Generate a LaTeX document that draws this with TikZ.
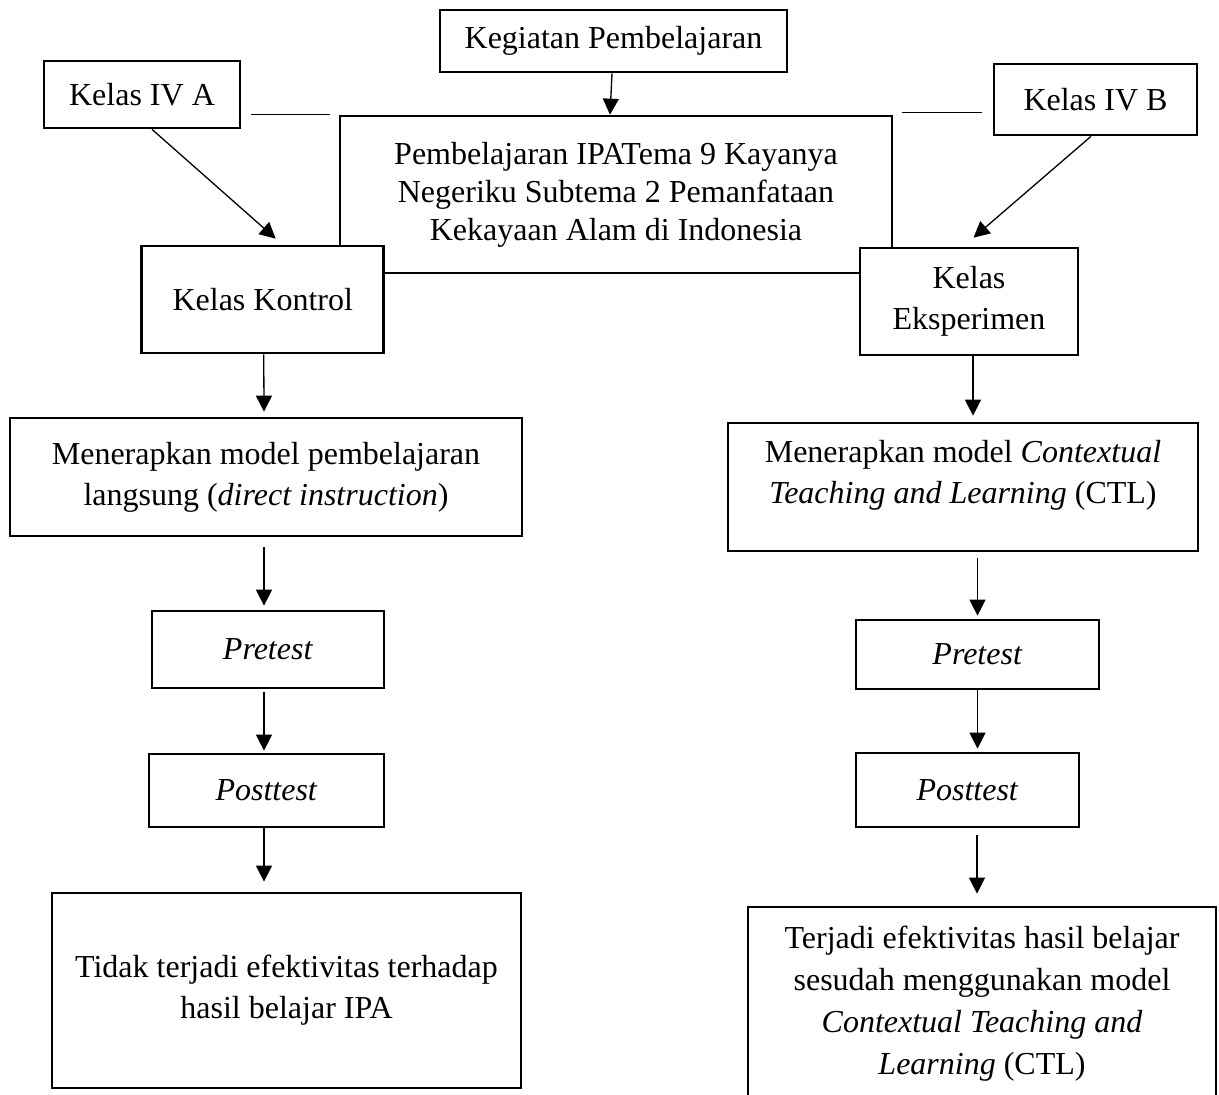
\documentclass[tikz,border=0pt]{standalone}
\usepackage{fontspec}
\setmainfont{Liberation Serif}
\usetikzlibrary{arrows.meta,calc}
\tikzset{
  box/.style={draw, fill=white, line width=2.7pt, inner sep=0pt, align=center,
              font=\fontsize{32}{41}\selectfont},
  txt/.style={inner sep=0pt, align=center, font=\fontsize{32}{41}\selectfont},
  arr/.style={line width=1.3pt, -{Triangle[length=16pt,width=16pt]}},
  plain/.style={line width=1.3pt}
}
\begin{document}
\begin{tikzpicture}[x=1pt,y=-1pt]
\fill[white] (0,0) rectangle (1219,1095);
\useasboundingbox (0,0) rectangle (1219,1095);

% central box (drawn first, partly covered)
\node[box, minimum width=552pt, minimum height=157pt, font=\fontsize{32}{38}\selectfont] (central) at (616,194.5)
  {Pembelajaran IPATema 9 Kayanya\\Negeriku Subtema 2 Pemanfataan\\Kekayaan Alam di Indonesia};

\node[box, minimum width=347pt, minimum height=62pt] (kg) at (613.5,41) {Kegiatan Pembelajaran};
\node[box, minimum width=196pt, minimum height=67pt] (iva) at (142,94.5) {Kelas IV A};
\node[box, minimum width=203pt, minimum height=71pt] (ivb) at (1095.5,99.5) {Kelas IV B};

\node[box, minimum width=242pt, minimum height=107pt] (kontrol) at (262.75,299.5) {Kelas Kontrol};
\node[box, minimum width=218pt, minimum height=107pt] (eks) at (969,301.5) {Kelas\\Eksperimen};

\node[box, minimum width=512pt, minimum height=118pt] (menl) at (266,477)
  {Menerapkan model pembelajaran\\langsung (\textit{direct instruction})};
\node[box, minimum width=470pt, minimum height=128pt] (menr) at (963,487) {};
\node[txt] (menrt) at (963,475)
  {Menerapkan model \textit{Contextual}\\\textit{Teaching and Learning} (CTL)};

\node[box, minimum width=232pt, minimum height=77pt] (prel) at (268,649.5) {\textit{Pretest}};
\node[box, minimum width=235pt, minimum height=73pt] (postl) at (266.5,790.5) {\textit{Posttest}};
\node[box, minimum width=243pt, minimum height=69pt] (prer) at (977.5,654.5) {\textit{Pretest}};
\node[box, minimum width=223pt, minimum height=74pt] (postr) at (967.5,790) {\textit{Posttest}};

\node[box, minimum width=469pt, minimum height=195pt] (tidak) at (286.5,990.5)
  {Tidak terjadi efektivitas terhadap\\hasil belajar IPA};
\node[box, minimum width=468pt, minimum height=193pt, font=\fontsize{32}{42}\selectfont] (terjadi) at (982,1003.5)
  {Terjadi efektivitas hasil belajar\\sesudah menggunakan model\\\textit{Contextual Teaching and}\\\textit{Learning} (CTL)};

% short plain lines
\draw[plain] ($(iva.east |- central.north)+(10,0)$) -- ($(central.north west)+(-9,0)$);
\draw[plain] ($(central.north east)+(9,-2)$) -- ($(ivb.west |- central.north)+(-11,-2)$);

% arrows
\draw[arr] ([xshift=-1.5pt]kg.south) -- ([xshift=-6pt]central.north);
\draw[arr] ([xshift=10pt]iva.south) -- ([xshift=13pt,yshift=6pt]kontrol.north);
\draw[arr] ([xshift=-4.5pt]ivb.south) -- ([xshift=4.5pt,yshift=9pt]eks.north);

\draw[arr] ([xshift=1pt]kontrol.south) -- ([xshift=-2pt,yshift=5pt]menl.north);
\draw[arr] ([xshift=-2pt,yshift=-10pt]menl.south) -- ([xshift=-4pt,yshift=4pt]prel.north);
\draw[arr] ([xshift=-4pt,yshift=-3pt]prel.south) -- ([xshift=-2.5pt,yshift=2pt]postl.north);
\draw[arr] ([xshift=-2.5pt]postl.south) -- ([xshift=-22.5pt,yshift=10pt]tidak.north);

\draw[arr] ([xshift=4pt]eks.south) -- ([xshift=10pt,yshift=6pt]menr.north);
\draw[arr] ([xshift=14.5pt,yshift=-6pt]menr.south) -- ([yshift=3pt]prer.north);
\draw[arr] (prer.south) -- ([xshift=10pt,yshift=3pt]postr.north);
\draw[arr] ([xshift=9.5pt,yshift=-7pt]postr.south) -- ([xshift=-5pt,yshift=12pt]terjadi.north);
\end{tikzpicture}
\end{document}
